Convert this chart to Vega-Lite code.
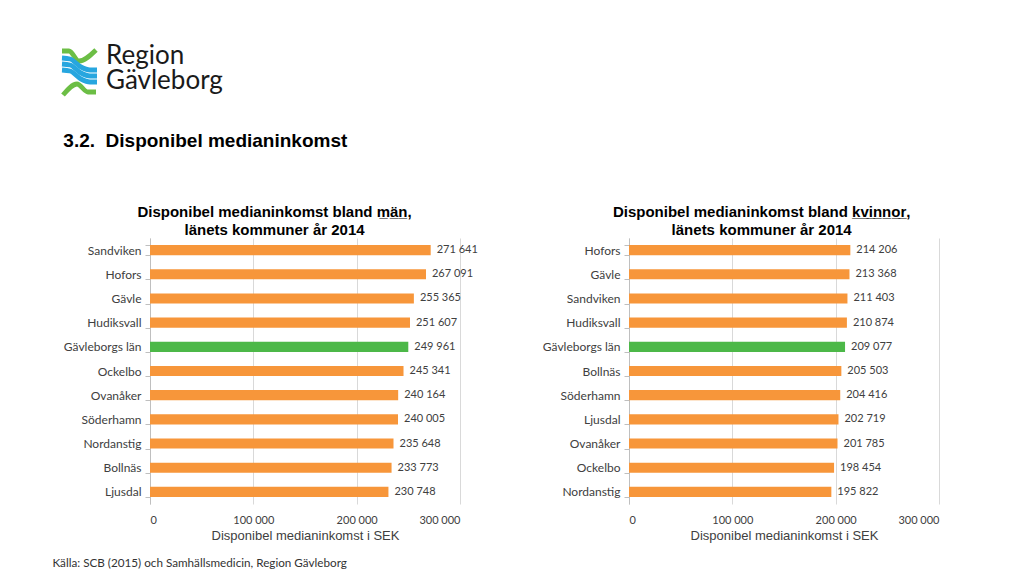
{
  "$schema": "https://vega.github.io/schema/vega-lite/v6.json",
  "background": "white",
  "padding": {"left": 52, "top": 40, "right": 5, "bottom": 3},
  "config": {
    "view": {"stroke": null},
    "locale": {"number": {"decimal": ",", "thousands": " ", "grouping": [3], "currency": ["", " kr"]}}
  },
  "title": {
    "text": "Källa: SCB (2015) och Samhällsmedicin, Region Gävleborg",
    "orient": "bottom",
    "anchor": "start",
    "frame": "bounds",
    "font": "Lato",
    "fontSize": 11.7,
    "fontWeight": "normal",
    "color": "#333333",
    "offset": 16
  },
  "columns": 1,
  "align": "none",
  "spacing": 27,
  "concat": [
    {
      "width": 38,
      "height": 50,
      "resolve": {"scale": {"y": "independent"}},
      "layer": [
        {
          "data": {"values": [
            {"part": "g1", "kind": "green", "i": 0, "px": 60, "py": 47},
            {"part": "g1", "kind": "green", "i": 1, "px": 67, "py": 47},
            {"part": "g1", "kind": "green", "i": 2, "px": 77, "py": 57},
            {"part": "g1", "kind": "green", "i": 3, "px": 94, "py": 46},
            {"part": "g2", "kind": "green", "i": 0, "px": 61, "py": 91},
            {"part": "g2", "kind": "green", "i": 1, "px": 75, "py": 80},
            {"part": "g2", "kind": "green", "i": 2, "px": 86, "py": 88},
            {"part": "g2", "kind": "green", "i": 3, "px": 94, "py": 88},
            {"part": "b1", "kind": "blue", "i": 0, "px": 60, "py": 54},
            {"part": "b1", "kind": "blue", "i": 1, "px": 68, "py": 55},
            {"part": "b1", "kind": "blue", "i": 2, "px": 79, "py": 63},
            {"part": "b1", "kind": "blue", "i": 3, "px": 88, "py": 66},
            {"part": "b1", "kind": "blue", "i": 4, "px": 95, "py": 66},
            {"part": "b2", "kind": "blue", "i": 0, "px": 60, "py": 60},
            {"part": "b2", "kind": "blue", "i": 1, "px": 68, "py": 61},
            {"part": "b2", "kind": "blue", "i": 2, "px": 79, "py": 69},
            {"part": "b2", "kind": "blue", "i": 3, "px": 88, "py": 72},
            {"part": "b2", "kind": "blue", "i": 4, "px": 95, "py": 72},
            {"part": "b3", "kind": "blue", "i": 0, "px": 60, "py": 66},
            {"part": "b3", "kind": "blue", "i": 1, "px": 68, "py": 67},
            {"part": "b3", "kind": "blue", "i": 2, "px": 79, "py": 75},
            {"part": "b3", "kind": "blue", "i": 3, "px": 88, "py": 78},
            {"part": "b3", "kind": "blue", "i": 4, "px": 95, "py": 78}
          ]},
          "mark": {"type": "line", "strokeWidth": 4.8, "interpolate": "monotone", "strokeCap": "butt", "clip": false},
          "encoding": {
            "x": {"field": "px", "type": "quantitative", "scale": {"domain": [148, 186], "nice": false, "zero": false}, "axis": null},
            "y": {"field": "py", "type": "quantitative", "scale": {"domain": [47, 97], "nice": false, "zero": false, "reverse": true}, "axis": null},
            "order": {"field": "i"},
            "detail": {"field": "part"},
            "color": {"field": "kind", "type": "nominal", "scale": {"domain": ["green", "blue"], "range": ["#6CBE45", "#27A6DF"]}, "legend": null}
          }
        },
        {
          "data": {"values": [
            {"word": "Region"},
            {"word": "Gävleborg"}
          ]},
          "mark": {"type": "text", "align": "left", "baseline": "alphabetic", "font": "Lato", "fontSize": 26, "color": "#1a1a1a", "clip": false},
          "encoding": {
            "x": {"datum": 104, "type": "quantitative", "scale": {"domain": [148, 186], "nice": false, "zero": false}},
            "y": {"field": "word", "type": "nominal", "sort": null, "bandPosition": 0.86, "scale": {"paddingOuter": 0, "paddingInner": 0}, "axis": null},
            "text": {"field": "word"}
          }
        }
      ]
    },
    {
      "hconcat": [
        {
          "title": {
            "text": "3.2.\u00a0 Disponibel medianinkomst",
            "anchor": "start",
            "frame": "bounds",
            "font": "Liberation Sans",
            "fontSize": 19,
            "fontWeight": "bold",
            "color": "#000000",
            "offset": 54
          },
          "hconcat": [
            {
              "width": 310,
              "height": 266,
              "title": {
                "text": ["Disponibel medianinkomst bland m̲ä̲n̲,", "länets kommuner år 2014"],
                "anchor": "middle",
                "frame": "bounds",
                "dx": 4,
                "font": "Liberation Sans",
                "fontSize": 15,
                "fontWeight": "bold",
                "lineHeight": 18,
                "color": "#000000",
                "offset": -6
              },
              "data": {"values": [
                {"kommun": "Sandviken", "inkomst": 271641},
                {"kommun": "Hofors", "inkomst": 267091},
                {"kommun": "Gävle", "inkomst": 255365},
                {"kommun": "Hudiksvall", "inkomst": 251607},
                {"kommun": "Gävleborgs län", "inkomst": 249961},
                {"kommun": "Ockelbo", "inkomst": 245341},
                {"kommun": "Ovanåker", "inkomst": 240164},
                {"kommun": "Söderhamn", "inkomst": 240005},
                {"kommun": "Nordanstig", "inkomst": 235648},
                {"kommun": "Bollnäs", "inkomst": 233773},
                {"kommun": "Ljusdal", "inkomst": 230748}
              ]},
              "encoding": {
                "y": {
                  "field": "kommun", "type": "nominal", "sort": null,
                  "scale": {"paddingInner": 0.58, "paddingOuter": 0.29},
                  "axis": {
                    "title": null, "domainColor": "#BFBFBF", "tickColor": "#BFBFBF", "tickBand": "extent", "tickSize": 5,
                    "labelFont": "Lato", "labelFontSize": 12, "labelColor": "#404040", "labelPadding": 4
                  }
                },
                "x": {
                  "field": "inkomst", "type": "quantitative",
                  "scale": {"domain": [0, 300000], "nice": false},
                  "axis": {
                    "title": "Disponibel medianinkomst i SEK", "titleFont": "Liberation Sans", "titleFontSize": 13, "titleFontWeight": "normal", "titleColor": "#404040", "titlePadding": 4,
                    "values": [0, 100000, 200000, 300000], "format": ",d",
                    "domain": false, "ticks": false, "grid": true, "gridColor": "#D9D9D9",
                    "labelFont": "Lato", "labelFontSize": 11, "labelColor": "#404040", "labelPadding": 10
                  }
                }
              },
              "layer": [
                {
                  "mark": {"type": "bar"},
                  "encoding": {
                    "color": {"condition": {"test": "datum.kommun === 'Gävleborgs län'", "value": "#4CB848"}, "value": "#F7963A"}
                  }
                },
                {
                  "mark": {"type": "text", "align": "left", "dx": 6, "font": "Lato", "fontSize": 11, "color": "#404040"},
                  "encoding": {"text": {"field": "inkomst", "type": "quantitative", "format": ",d"}}
                }
              ]
            },
            {
              "width": 310,
              "height": 266,
              "title": {
                "text": ["Disponibel medianinkomst bland k̲v̲i̲n̲n̲o̲r̲,", "länets kommuner år 2014"],
                "anchor": "middle",
                "frame": "bounds",
                "dx": 21,
                "font": "Liberation Sans",
                "fontSize": 15,
                "fontWeight": "bold",
                "lineHeight": 18,
                "color": "#000000",
                "offset": -6
              },
              "data": {"values": [
                {"kommun": "Hofors", "inkomst": 214206},
                {"kommun": "Gävle", "inkomst": 213368},
                {"kommun": "Sandviken", "inkomst": 211403},
                {"kommun": "Hudiksvall", "inkomst": 210874},
                {"kommun": "Gävleborgs län", "inkomst": 209077},
                {"kommun": "Bollnäs", "inkomst": 205503},
                {"kommun": "Söderhamn", "inkomst": 204416},
                {"kommun": "Ljusdal", "inkomst": 202719},
                {"kommun": "Ovanåker", "inkomst": 201785},
                {"kommun": "Ockelbo", "inkomst": 198454},
                {"kommun": "Nordanstig", "inkomst": 195822}
              ]},
              "encoding": {
                "y": {
                  "field": "kommun", "type": "nominal", "sort": null,
                  "scale": {"paddingInner": 0.58, "paddingOuter": 0.29},
                  "axis": {
                    "title": null, "domainColor": "#BFBFBF", "tickColor": "#BFBFBF", "tickBand": "extent", "tickSize": 5,
                    "labelFont": "Lato", "labelFontSize": 12, "labelColor": "#404040", "labelPadding": 4
                  }
                },
                "x": {
                  "field": "inkomst", "type": "quantitative",
                  "scale": {"domain": [0, 300000], "nice": false},
                  "axis": {
                    "title": "Disponibel medianinkomst i SEK", "titleFont": "Liberation Sans", "titleFontSize": 13, "titleFontWeight": "normal", "titleColor": "#404040", "titlePadding": 4,
                    "values": [0, 100000, 200000, 300000], "format": ",d",
                    "domain": false, "ticks": false, "grid": true, "gridColor": "#D9D9D9",
                    "labelFont": "Lato", "labelFontSize": 11, "labelColor": "#404040", "labelPadding": 10
                  }
                }
              },
              "layer": [
                {
                  "mark": {"type": "bar"},
                  "encoding": {
                    "color": {"condition": {"test": "datum.kommun === 'Gävleborgs län'", "value": "#4CB848"}, "value": "#F7963A"}
                  }
                },
                {
                  "mark": {"type": "text", "align": "left", "dx": 6, "font": "Lato", "fontSize": 11, "color": "#404040"},
                  "encoding": {"text": {"field": "inkomst", "type": "quantitative", "format": ",d"}}
                }
              ]
            }
          ],
          "spacing": 169,
          "bounds": "flush"
        }
      ]
    }
  ]
}
